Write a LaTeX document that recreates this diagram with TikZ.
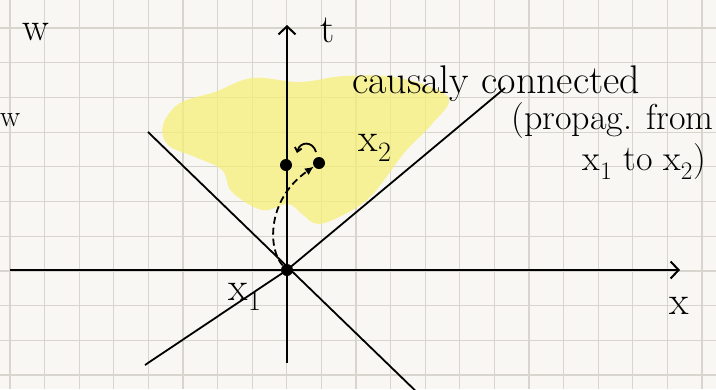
\documentclass[tikz,border=0pt]{standalone}
\usetikzlibrary{arrows.meta}
\definecolor{paper}{RGB}{249,247,243}
\definecolor{gridc}{RGB}{216,212,206}
\definecolor{hl}{RGB}{246,240,120}
\begin{document}
\begin{tikzpicture}[x=1pt,y=-1pt,
  gridline/.style={gridc,line width=1.2pt},
  axis/.style={line width=2.2pt,black},
  cone/.style={line width=1.8pt,black},
  tip/.style={-{Straight Barb[length=8pt,width=17pt,line width=2pt]}},
  dotn/.style={circle,fill=black,inner sep=0pt,minimum size=12pt},
  hand/.style={font=\fontsize{40}{44}\selectfont,inner sep=0pt},
  handsm/.style={font=\fontsize{36}{40}\selectfont,inner sep=0pt}]
\useasboundingbox (0,0) rectangle (716,389);
\clip (0,0) rectangle (716,389);
\fill[paper] (0,0) rectangle (716,389);
% grid
\foreach \k in {0,...,20} \draw[gridline] ({10+34.6*\k},0) -- ({10+34.6*\k},389);
\foreach \k in {-1,...,10} \draw[gridline] (0,{28+34.7*\k}) -- (716,{28+34.7*\k});
% highlighter
\fill[hl,opacity=0.75] plot[smooth cycle,tension=0.6] coordinates {
 (163,125) (180,103) (215,92) (252,78) (300,82) (345,76) (400,78) (448,97)
 (432,124) (405,152) (372,195) (345,214) (318,224) (302,214) (288,204)
 (262,210) (232,192) (222,170) (195,157) (168,145)};
% axes
\coordinate (tbot) at (287,363);
\coordinate (ttop) at (287,25);
\coordinate (xl) at (10,270);
\coordinate (xr) at (680,270);
\draw[axis,tip] (tbot) -- (ttop);
\draw[axis,tip] (xl) -- (xr);
% light cone lines
\coordinate (c1a) at (148,132);
\coordinate (c1b) at (425,400);
\coordinate (c2a) at (145,365);
\coordinate (c2m) at (287,270);
\coordinate (c2b) at (505,88);
\draw[cone] (c1a) -- (c1b);
\draw[cone] (c2a) -- (c2m) -- (c2b);
% events
\node[dotn] (O) at (287,270) {};
\node[dotn] (A) at (286,165) {};
\node[dotn] (B) at (319,163) {};
% dashed propagation
\draw[line width=1.8pt,dash pattern=on 7pt off 4pt,-{Latex[length=9pt,width=8pt]}]
  (O) .. controls (268,250) and (266,200) .. (B);
% small curved arrow
\coordinate (sa) at (316,152);
\coordinate (sb) at (297,153);
\draw[line width=1.8pt,-{Straight Barb[length=4pt,width=7pt]}] (sa) .. controls (313,141) and (300,141) .. (sb);
% labels
\node[hand] (tl) at (328,30) {t};
\node[hand] (wl) at (36,32) {w};
\node[hand,font=\fontsize{30}{34}\selectfont,anchor=west] (wl2) at (0,120) {w};
\node[hand] (x2) at (375,148) {x\textsubscript{2}};
\node[hand] (x1) at (245,297) {x\textsubscript{1}};
\node[hand] (xa) at (679,306) {x};
\node[hand,anchor=west] (cc) at (352,84) {causaly connected};
\node[handsm,anchor=east] (pf) at (714,121) {(propag. from};
\node[handsm,anchor=east] (tt) at (706,162) {x\textsubscript{1} to x\textsubscript{2})};
\end{tikzpicture}
\end{document}
